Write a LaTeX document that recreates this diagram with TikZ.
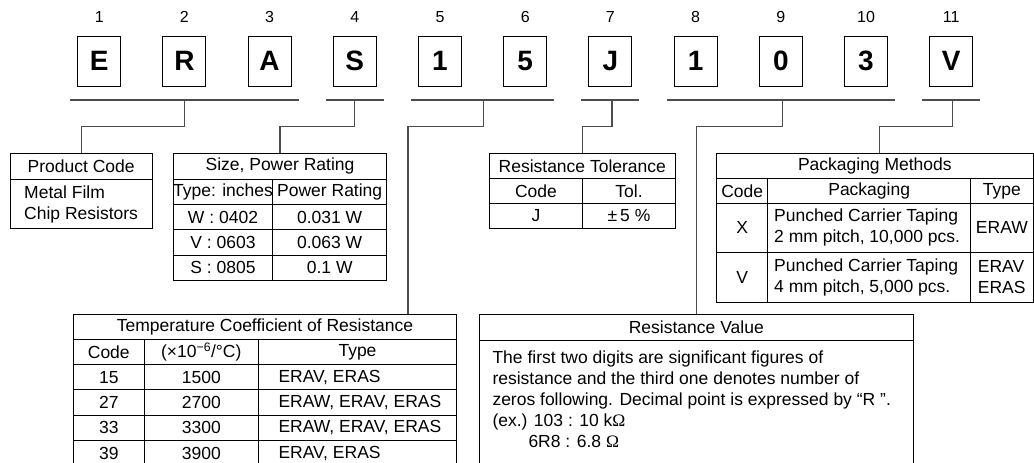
\documentclass[tikz,border=0pt]{standalone}
\usepackage{fontspec}
\setmainfont{Liberation Sans}
\newfontfamily\omfont{Liberation Serif}

\begin{document}
\begin{tikzpicture}[x=1pt,y=-1pt,
    every node/.style={inner sep=0pt,font=\fontsize{17.5}{21}\selectfont},
    letter/.style={draw,line width=1pt,minimum width=43pt,minimum height=50pt,font=\fontsize{28}{28}\selectfont\bfseries},
    num/.style={font=\fontsize{16}{16}\selectfont},
    tbl/.style={draw,line width=1pt},
    conn/.style={draw=black!70,line width=1.2pt}]
  \useasboundingbox (0,0) rectangle (1034,463);
  \node[num]    (n1)  at (99.2,17)  {1};
  \node[num]    (n2)  at (184.4,17) {2};
  \node[num]    (n3)  at (269.6,17) {3};
  \node[num]    (n4)  at (354.8,17) {4};
  \node[num]    (n5)  at (440.0,17) {5};
  \node[num]    (n6)  at (525.2,17) {6};
  \node[num]    (n7)  at (610.4,17) {7};
  \node[num]    (n8)  at (695.6,17) {8};
  \node[num]    (n9)  at (780.8,17) {9};
  \node[num]    (n10) at (866.0,17) {10};
  \node[num]    (n11) at (951.2,17) {11};
  \node[letter] (l1)  at (99.2,61)  {E};
  \node[letter] (l2)  at (184.4,61) {R};
  \node[letter] (l3)  at (269.6,61) {A};
  \node[letter] (l4)  at (354.8,61) {S};
  \node[letter] (l5)  at (440.0,61) {1};
  \node[letter] (l6)  at (525.2,61) {5};
  \node[letter] (l7)  at (610.4,61) {J};
  \node[letter] (l8)  at (695.6,61) {1};
  \node[letter] (l9)  at (780.8,61) {0};
  \node[letter] (l10) at (866.0,61) {3};
  \node[letter] (l11) at (951.2,61) {V};
  \coordinate (m1) at (184.4,100);
  \coordinate (m2) at (354.8,100);
  \coordinate (m3) at (483.5,100);
  \coordinate (m4) at (612,100);
  \coordinate (m5) at (782.5,100);
  \coordinate (m6) at (952.5,100);
  \draw[conn] ([xshift=-7pt]l1.west |- m1) -- ([xshift=7pt]l3.east |- m1);
  \draw[conn] ([xshift=-7pt]l4.west |- m2) -- ([xshift=7pt]l4.east |- m2);
  \draw[conn] ([xshift=-7pt]l5.west |- m3) -- ([xshift=7pt]l6.east |- m3);
  \draw[conn] ([xshift=-7pt]l7.west |- m4) -- ([xshift=7pt]l7.east |- m4);
  \draw[conn] ([xshift=-7pt]l8.west |- m5) -- ([xshift=7pt]l10.east |- m5);
  \draw[conn] ([xshift=-7pt]l11.west |- m6) -- ([xshift=7pt]l11.east |- m6);
  \node[tbl,minimum width=142.3pt,minimum height=75pt]    (pc)  at (81.2,190.8)  {};
  \node[tbl,minimum width=213.4pt,minimum height=127.4pt] (sz)  at (280,217)     {};
  \node[tbl,minimum width=186pt,minimum height=75pt]      (tol) at (582.3,190.8) {};
  \node[tbl,minimum width=316.3pt,minimum height=149.4pt] (pk)  at (874.85,228)  {};
  \node[tbl,minimum width=383.4pt,minimum height=160.7pt] (tcr) at (265,394.65)  {};
  \node[tbl,minimum width=434pt,minimum height=161pt]     (rv)  at (696.3,394.5) {};
  \draw[conn] (m1) -- ++(0,26.7) -| (pc.north);
  \draw[conn] (m2) -- ++(0,26.7) -| (sz.north);
  \draw[conn] (m3) -- ++(0,26.7) -| ([xshift=143pt]tcr.north);
  \draw[conn] (m4) -- ++(0,26.7) -| (tol.north);
  \draw[conn] (m5) -- ++(0,26.7) -| (rv.north);
  \draw[conn] (m6) -- ++(0,26.7) -| ([xshift=5pt]pk.north);
  \draw[tbl] (10,179) -- (152.3,179);
  \node (pct) at (81.2,166) {Product Code};
  \node[anchor=west,align=left] (pcb) at (24,204) {Metal Film\\Chip Resistors};
  \draw[tbl] (173.3,179) -- (386.7,179) (173.3,204.3) -- (386.7,204.3)
    (173.3,229.7) -- (386.7,229.7) (173.3,255) -- (386.7,255) (272.7,179) -- (272.7,280.7);
  \node (szt) at (280,166)     {Size, Power Rating};
  \node (sz1) at (223,191.7)   {Type: inches};
  \node (sz2) at (329.7,191.7) {Power Rating};
  \node (sz3) at (223,217)     {W : 0402};
  \node (sz4) at (329.7,217)   {0.031 W};
  \node (sz5) at (223,242.3)   {V : 0603};
  \node (sz6) at (329.7,242.3) {0.063 W};
  \node (sz7) at (223,267.8)   {S : 0805};
  \node (sz8) at (329.7,267.8) {0.1 W};
  \draw[tbl] (489.3,178.3) -- (675.3,178.3) (489.3,203.3) -- (675.3,203.3) (582.7,178.3) -- (582.7,228.3);
  \node (tolt) at (582.3,165.8) {Resistance Tolerance};
  \node (tol1) at (536,190.8)   {Code};
  \node (tol2) at (629,190.8)   {Tol.};
  \node (tol3) at (536,215.8)   {J};
  \node (tol4) at (629,215.8)   {±\,5 \%};
  \draw[tbl] (716.7,178.3) -- (1033,178.3) (716.7,203.3) -- (1033,203.3) (716.7,252) -- (1033,252)
    (767.7,178.3) -- (767.7,302.7) (970.7,178.3) -- (970.7,302.7);
  \node (pkt) at (874.85,165.8) {Packaging Methods};
  \node (pk1) at (742.2,190.8)  {Code};
  \node (pk2) at (869.2,190.8)  {Packaging};
  \node (pk3) at (1001.9,190.8) {Type};
  \node (pk4) at (742.2,227.7)  {X};
  \node[anchor=west,align=left] (pk5) at (774,227.7) {Punched Carrier Taping\\2 mm pitch, 10,000 pcs.};
  \node (pk6) at (1001.9,227.7) {ERAW};
  \node (pk7) at (742.2,277.3)  {V};
  \node[anchor=west,align=left] (pk8) at (774,277.3) {Punched Carrier Taping\\4 mm pitch, 5,000 pcs.};
  \node[anchor=west,align=left] (pk9) at (977.7,277.3) {ERAV\\ERAS};
  \draw[tbl] (73.3,339.3) -- (456.7,339.3) (73.3,364.6) -- (456.7,364.6) (73.3,389.9) -- (456.7,389.9)
    (73.3,415.2) -- (456.7,415.2) (73.3,440.5) -- (456.7,440.5)
    (144.3,339.3) -- (144.3,475) (258.3,339.3) -- (258.3,475);
  \node (tct) at (265,326.8)   {Temperature Coefficient of Resistance};
  \node (tc1) at (108.8,352)   {Code};
  \node (tc2) at (201.3,352)   {(×10\textsuperscript{−6}/°C)};
  \node (tc3) at (357.5,352)   {Type};
  \node (tc4) at (108.8,377.3) {15};
  \node (tc5) at (201.3,377.3) {1500};
  \node[anchor=west] (tc6) at (278.3,377.3) {ERAV, ERAS};
  \node (tc7) at (108.8,402.6) {27};
  \node (tc8) at (201.3,402.6) {2700};
  \node[anchor=west] (tc9) at (278.3,402.6) {ERAW, ERAV, ERAS};
  \node (tc10) at (108.8,427.9) {33};
  \node (tc11) at (201.3,427.9) {3300};
  \node[anchor=west] (tc12) at (278.3,427.9) {ERAW, ERAV, ERAS};
  \node (tc13) at (108.8,453.2) {39};
  \node (tc14) at (201.3,453.2) {3900};
  \node[anchor=west] (tc15) at (278.3,453.2) {ERAV, ERAS};
  \draw[tbl] (479.3,340) -- (913.3,340);
  \node (rvt) at (696.3,327) {Resistance Value};
  \node[anchor=west,align=left] (rvb) at (492.3,399) {The first two digits are significant figures of\\
    resistance and the third one denotes number of\\
    zeros following. Decimal point is expressed by “R ”.\\
    (ex.) 103 : 10 k{\omfont Ω}\\
    \hspace*{36pt}6R8 : 6.8 {\omfont Ω}};
\end{tikzpicture}
\end{document}
